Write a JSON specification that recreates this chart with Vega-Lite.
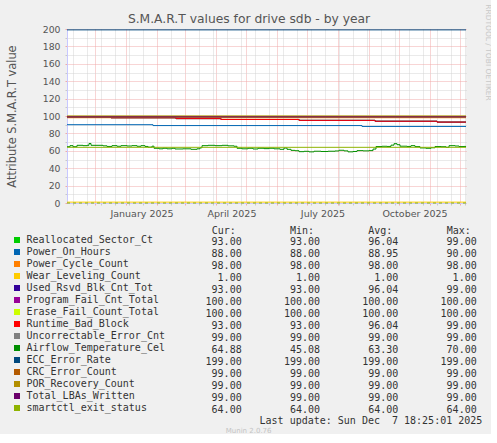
{
  "$schema": "https://vega.github.io/schema/vega-lite/v6.json",
  "background": "#f0f0f0",
  "padding": {"left": 6, "top": 3, "right": 0, "bottom": 0},
  "config": {
    "font": "DejaVu Sans",
    "view": {"stroke": null}
  },
  "datasets": {
    "ts": [
      {"series": "Reallocated_Sector_Ct", "date": "2024-11-03", "value": 99},
      {"series": "Reallocated_Sector_Ct", "date": "2024-12-17", "value": 98},
      {"series": "Reallocated_Sector_Ct", "date": "2025-02-20", "value": 97},
      {"series": "Reallocated_Sector_Ct", "date": "2025-04-06", "value": 96},
      {"series": "Reallocated_Sector_Ct", "date": "2025-06-23", "value": 95},
      {"series": "Reallocated_Sector_Ct", "date": "2025-09-07", "value": 94},
      {"series": "Reallocated_Sector_Ct", "date": "2025-11-08", "value": 93},
      {"series": "Reallocated_Sector_Ct", "date": "2025-12-07", "value": 93},
      {"series": "Power_On_Hours", "date": "2024-11-03", "value": 90},
      {"series": "Power_On_Hours", "date": "2025-01-28", "value": 89},
      {"series": "Power_On_Hours", "date": "2025-08-25", "value": 88},
      {"series": "Power_On_Hours", "date": "2025-12-07", "value": 88},
      {"series": "Power_Cycle_Count", "date": "2024-11-03", "value": 98},
      {"series": "Power_Cycle_Count", "date": "2025-12-07", "value": 98},
      {"series": "Wear_Leveling_Count", "date": "2024-11-03", "value": 1},
      {"series": "Wear_Leveling_Count", "date": "2025-12-07", "value": 1},
      {"series": "Used_Rsvd_Blk_Cnt_Tot", "date": "2024-11-03", "value": 99},
      {"series": "Used_Rsvd_Blk_Cnt_Tot", "date": "2024-12-17", "value": 98},
      {"series": "Used_Rsvd_Blk_Cnt_Tot", "date": "2025-02-20", "value": 97},
      {"series": "Used_Rsvd_Blk_Cnt_Tot", "date": "2025-04-06", "value": 96},
      {"series": "Used_Rsvd_Blk_Cnt_Tot", "date": "2025-06-23", "value": 95},
      {"series": "Used_Rsvd_Blk_Cnt_Tot", "date": "2025-09-07", "value": 94},
      {"series": "Used_Rsvd_Blk_Cnt_Tot", "date": "2025-11-08", "value": 93},
      {"series": "Used_Rsvd_Blk_Cnt_Tot", "date": "2025-12-07", "value": 93},
      {"series": "Program_Fail_Cnt_Total", "date": "2024-11-03", "value": 100},
      {"series": "Program_Fail_Cnt_Total", "date": "2025-12-07", "value": 100},
      {"series": "Erase_Fail_Count_Total", "date": "2024-11-03", "value": 100},
      {"series": "Erase_Fail_Count_Total", "date": "2025-12-07", "value": 100},
      {"series": "Runtime_Bad_Block", "date": "2024-11-03", "value": 99},
      {"series": "Runtime_Bad_Block", "date": "2024-12-17", "value": 98},
      {"series": "Runtime_Bad_Block", "date": "2025-02-20", "value": 97},
      {"series": "Runtime_Bad_Block", "date": "2025-04-06", "value": 96},
      {"series": "Runtime_Bad_Block", "date": "2025-06-23", "value": 95},
      {"series": "Runtime_Bad_Block", "date": "2025-09-07", "value": 94},
      {"series": "Runtime_Bad_Block", "date": "2025-11-08", "value": 93},
      {"series": "Runtime_Bad_Block", "date": "2025-12-07", "value": 93},
      {"series": "Uncorrectable_Error_Cnt", "date": "2024-11-03", "value": 99},
      {"series": "Uncorrectable_Error_Cnt", "date": "2025-12-07", "value": 99},
      {"series": "Airflow_Temperature_Cel", "date": "2024-11-03", "value": 64.7},
      {"series": "Airflow_Temperature_Cel", "date": "2024-11-06", "value": 65.9},
      {"series": "Airflow_Temperature_Cel", "date": "2024-11-09", "value": 64.7},
      {"series": "Airflow_Temperature_Cel", "date": "2024-11-13", "value": 66.3},
      {"series": "Airflow_Temperature_Cel", "date": "2024-11-19", "value": 65.9},
      {"series": "Airflow_Temperature_Cel", "date": "2024-11-23", "value": 66.3},
      {"series": "Airflow_Temperature_Cel", "date": "2024-11-25", "value": 68.4},
      {"series": "Airflow_Temperature_Cel", "date": "2024-11-27", "value": 66.3},
      {"series": "Airflow_Temperature_Cel", "date": "2024-12-04", "value": 66.3},
      {"series": "Airflow_Temperature_Cel", "date": "2024-12-09", "value": 65.7},
      {"series": "Airflow_Temperature_Cel", "date": "2024-12-13", "value": 65.0},
      {"series": "Airflow_Temperature_Cel", "date": "2024-12-18", "value": 65.9},
      {"series": "Airflow_Temperature_Cel", "date": "2024-12-23", "value": 65.2},
      {"series": "Airflow_Temperature_Cel", "date": "2024-12-27", "value": 65.9},
      {"series": "Airflow_Temperature_Cel", "date": "2025-01-02", "value": 65.5},
      {"series": "Airflow_Temperature_Cel", "date": "2025-01-07", "value": 65.9},
      {"series": "Airflow_Temperature_Cel", "date": "2025-01-12", "value": 65.2},
      {"series": "Airflow_Temperature_Cel", "date": "2025-01-16", "value": 65.9},
      {"series": "Airflow_Temperature_Cel", "date": "2025-01-20", "value": 65.0},
      {"series": "Airflow_Temperature_Cel", "date": "2025-01-23", "value": 64.2},
      {"series": "Airflow_Temperature_Cel", "date": "2025-01-27", "value": 65.3},
      {"series": "Airflow_Temperature_Cel", "date": "2025-01-29", "value": 62.9},
      {"series": "Airflow_Temperature_Cel", "date": "2025-02-03", "value": 62.3},
      {"series": "Airflow_Temperature_Cel", "date": "2025-02-07", "value": 62.9},
      {"series": "Airflow_Temperature_Cel", "date": "2025-02-11", "value": 62.3},
      {"series": "Airflow_Temperature_Cel", "date": "2025-02-16", "value": 62.9},
      {"series": "Airflow_Temperature_Cel", "date": "2025-02-19", "value": 62.1},
      {"series": "Airflow_Temperature_Cel", "date": "2025-02-27", "value": 62.3},
      {"series": "Airflow_Temperature_Cel", "date": "2025-03-07", "value": 61.7},
      {"series": "Airflow_Temperature_Cel", "date": "2025-03-13", "value": 62.3},
      {"series": "Airflow_Temperature_Cel", "date": "2025-03-16", "value": 63.5},
      {"series": "Airflow_Temperature_Cel", "date": "2025-03-18", "value": 65.9},
      {"series": "Airflow_Temperature_Cel", "date": "2025-03-24", "value": 66.3},
      {"series": "Airflow_Temperature_Cel", "date": "2025-03-31", "value": 65.9},
      {"series": "Airflow_Temperature_Cel", "date": "2025-04-07", "value": 66.3},
      {"series": "Airflow_Temperature_Cel", "date": "2025-04-13", "value": 65.7},
      {"series": "Airflow_Temperature_Cel", "date": "2025-04-19", "value": 65.2},
      {"series": "Airflow_Temperature_Cel", "date": "2025-04-22", "value": 62.9},
      {"series": "Airflow_Temperature_Cel", "date": "2025-04-27", "value": 62.3},
      {"series": "Airflow_Temperature_Cel", "date": "2025-05-03", "value": 62.9},
      {"series": "Airflow_Temperature_Cel", "date": "2025-05-08", "value": 62.1},
      {"series": "Airflow_Temperature_Cel", "date": "2025-05-13", "value": 62.9},
      {"series": "Airflow_Temperature_Cel", "date": "2025-05-19", "value": 62.5},
      {"series": "Airflow_Temperature_Cel", "date": "2025-05-24", "value": 62.9},
      {"series": "Airflow_Temperature_Cel", "date": "2025-05-29", "value": 62.3},
      {"series": "Airflow_Temperature_Cel", "date": "2025-06-04", "value": 61.7},
      {"series": "Airflow_Temperature_Cel", "date": "2025-06-08", "value": 63.2},
      {"series": "Airflow_Temperature_Cel", "date": "2025-06-11", "value": 61.7},
      {"series": "Airflow_Temperature_Cel", "date": "2025-06-15", "value": 60.5},
      {"series": "Airflow_Temperature_Cel", "date": "2025-06-19", "value": 60.1},
      {"series": "Airflow_Temperature_Cel", "date": "2025-06-23", "value": 59.0},
      {"series": "Airflow_Temperature_Cel", "date": "2025-06-28", "value": 59.4},
      {"series": "Airflow_Temperature_Cel", "date": "2025-07-03", "value": 58.8},
      {"series": "Airflow_Temperature_Cel", "date": "2025-07-08", "value": 59.5},
      {"series": "Airflow_Temperature_Cel", "date": "2025-07-15", "value": 59.2},
      {"series": "Airflow_Temperature_Cel", "date": "2025-07-22", "value": 59.5},
      {"series": "Airflow_Temperature_Cel", "date": "2025-07-29", "value": 59.8},
      {"series": "Airflow_Temperature_Cel", "date": "2025-08-02", "value": 60.6},
      {"series": "Airflow_Temperature_Cel", "date": "2025-08-07", "value": 59.9},
      {"series": "Airflow_Temperature_Cel", "date": "2025-08-11", "value": 58.8},
      {"series": "Airflow_Temperature_Cel", "date": "2025-08-16", "value": 59.2},
      {"series": "Airflow_Temperature_Cel", "date": "2025-08-20", "value": 60.2},
      {"series": "Airflow_Temperature_Cel", "date": "2025-08-26", "value": 59.9},
      {"series": "Airflow_Temperature_Cel", "date": "2025-09-01", "value": 60.2},
      {"series": "Airflow_Temperature_Cel", "date": "2025-09-05", "value": 62.0},
      {"series": "Airflow_Temperature_Cel", "date": "2025-09-08", "value": 64.9},
      {"series": "Airflow_Temperature_Cel", "date": "2025-09-14", "value": 65.2},
      {"series": "Airflow_Temperature_Cel", "date": "2025-09-19", "value": 65.0},
      {"series": "Airflow_Temperature_Cel", "date": "2025-09-23", "value": 66.5},
      {"series": "Airflow_Temperature_Cel", "date": "2025-09-26", "value": 68.2},
      {"series": "Airflow_Temperature_Cel", "date": "2025-09-29", "value": 67.0},
      {"series": "Airflow_Temperature_Cel", "date": "2025-10-02", "value": 65.3},
      {"series": "Airflow_Temperature_Cel", "date": "2025-10-09", "value": 65.0},
      {"series": "Airflow_Temperature_Cel", "date": "2025-10-13", "value": 65.9},
      {"series": "Airflow_Temperature_Cel", "date": "2025-10-17", "value": 64.8},
      {"series": "Airflow_Temperature_Cel", "date": "2025-10-22", "value": 63.3},
      {"series": "Airflow_Temperature_Cel", "date": "2025-10-28", "value": 62.9},
      {"series": "Airflow_Temperature_Cel", "date": "2025-11-02", "value": 63.5},
      {"series": "Airflow_Temperature_Cel", "date": "2025-11-06", "value": 64.9},
      {"series": "Airflow_Temperature_Cel", "date": "2025-11-12", "value": 64.7},
      {"series": "Airflow_Temperature_Cel", "date": "2025-11-17", "value": 64.0},
      {"series": "Airflow_Temperature_Cel", "date": "2025-11-20", "value": 65.9},
      {"series": "Airflow_Temperature_Cel", "date": "2025-11-26", "value": 65.5},
      {"series": "Airflow_Temperature_Cel", "date": "2025-11-30", "value": 64.9},
      {"series": "Airflow_Temperature_Cel", "date": "2025-12-05", "value": 65.0},
      {"series": "Airflow_Temperature_Cel", "date": "2025-12-07", "value": 64.9},
      {"series": "ECC_Error_Rate", "date": "2024-11-03", "value": 199},
      {"series": "ECC_Error_Rate", "date": "2025-12-07", "value": 199},
      {"series": "CRC_Error_Count", "date": "2024-11-03", "value": 99},
      {"series": "CRC_Error_Count", "date": "2025-12-07", "value": 99},
      {"series": "POR_Recovery_Count", "date": "2024-11-03", "value": 99},
      {"series": "POR_Recovery_Count", "date": "2025-12-07", "value": 99},
      {"series": "Total_LBAs_Written", "date": "2024-11-03", "value": 99},
      {"series": "Total_LBAs_Written", "date": "2025-12-07", "value": 99},
      {"series": "smartctl_exit_status", "date": "2024-11-03", "value": 64},
      {"series": "smartctl_exit_status", "date": "2025-12-07", "value": 64}
    ],
    "stats": [
      {"name": "Reallocated_Sector_Ct", "Cur": 93, "Min": 93, "Avg": 96.04, "Max": 99},
      {"name": "Power_On_Hours", "Cur": 88, "Min": 88, "Avg": 88.95, "Max": 90},
      {"name": "Power_Cycle_Count", "Cur": 98, "Min": 98, "Avg": 98, "Max": 98},
      {"name": "Wear_Leveling_Count", "Cur": 1, "Min": 1, "Avg": 1, "Max": 1},
      {"name": "Used_Rsvd_Blk_Cnt_Tot", "Cur": 93, "Min": 93, "Avg": 96.04, "Max": 99},
      {"name": "Program_Fail_Cnt_Total", "Cur": 100, "Min": 100, "Avg": 100, "Max": 100},
      {"name": "Erase_Fail_Count_Total", "Cur": 100, "Min": 100, "Avg": 100, "Max": 100},
      {"name": "Runtime_Bad_Block", "Cur": 93, "Min": 93, "Avg": 96.04, "Max": 99},
      {"name": "Uncorrectable_Error_Cnt", "Cur": 99, "Min": 99, "Avg": 99, "Max": 99},
      {"name": "Airflow_Temperature_Cel", "Cur": 64.88, "Min": 45.08, "Avg": 63.3, "Max": 70},
      {"name": "ECC_Error_Rate", "Cur": 199, "Min": 199, "Avg": 199, "Max": 199},
      {"name": "CRC_Error_Count", "Cur": 99, "Min": 99, "Avg": 99, "Max": 99},
      {"name": "POR_Recovery_Count", "Cur": 99, "Min": 99, "Avg": 99, "Max": 99},
      {"name": "Total_LBAs_Written", "Cur": 99, "Min": 99, "Avg": 99, "Max": 99},
      {"name": "smartctl_exit_status", "Cur": 64, "Min": 64, "Avg": 64, "Max": 64}
    ]
  },
  "title": {"text": "Munin 2.0.76", "orient": "bottom", "anchor": "middle", "fontSize": 7, "fontWeight": "normal", "color": "#c4c4c4", "offset": 1},
  "spacing": 6.6,
  "resolve": {"scale": {"color": "shared"}, "legend": {"color": "shared"}},
  "vconcat": [
    {
      "width": 399,
      "height": 174,
      "view": {"fill": "white", "stroke": null},
      "layer": [
        {
          "data": {"name": "ts"},
          "mark": {"type": "line", "interpolate": "step-after", "strokeWidth": 1},
          "encoding": {
            "x": {
              "field": "date", "type": "temporal",
              "scale": {"domain": [{"year": 2024, "month": 11, "date": 3}, {"year": 2025, "month": 12, "date": 7}]},
              "axis": {
                "title": null,
                "values": [
                  {"year": 2024, "month": 11, "date": 9}, {"year": 2024, "month": 11, "date": 23},
                  {"year": 2024, "month": 12, "date": 1}, {"year": 2024, "month": 12, "date": 7},
                  {"year": 2024, "month": 12, "date": 21}, {"year": 2025, "month": 1, "date": 1},
                  {"year": 2025, "month": 1, "date": 4}, {"year": 2025, "month": 1, "date": 18},
                  {"year": 2025, "month": 2, "date": 1}, {"year": 2025, "month": 2, "date": 15},
                  {"year": 2025, "month": 3, "date": 1}, {"year": 2025, "month": 3, "date": 15},
                  {"year": 2025, "month": 3, "date": 29}, {"year": 2025, "month": 4, "date": 1},
                  {"year": 2025, "month": 4, "date": 12}, {"year": 2025, "month": 4, "date": 26},
                  {"year": 2025, "month": 5, "date": 1}, {"year": 2025, "month": 5, "date": 10},
                  {"year": 2025, "month": 5, "date": 24}, {"year": 2025, "month": 6, "date": 1},
                  {"year": 2025, "month": 6, "date": 7}, {"year": 2025, "month": 6, "date": 21},
                  {"year": 2025, "month": 7, "date": 1}, {"year": 2025, "month": 7, "date": 5},
                  {"year": 2025, "month": 7, "date": 19}, {"year": 2025, "month": 8, "date": 1},
                  {"year": 2025, "month": 8, "date": 2}, {"year": 2025, "month": 8, "date": 16},
                  {"year": 2025, "month": 8, "date": 30}, {"year": 2025, "month": 9, "date": 1},
                  {"year": 2025, "month": 9, "date": 13}, {"year": 2025, "month": 9, "date": 27},
                  {"year": 2025, "month": 10, "date": 1}, {"year": 2025, "month": 10, "date": 11},
                  {"year": 2025, "month": 10, "date": 25}, {"year": 2025, "month": 11, "date": 1},
                  {"year": 2025, "month": 11, "date": 8}, {"year": 2025, "month": 11, "date": 22},
                  {"year": 2025, "month": 12, "date": 1}, {"year": 2025, "month": 12, "date": 6}
                ],
                "labelExpr": "date(datum.value) === 1 && month(datum.value) % 3 === 0 ? timeFormat(datum.value, '%B %Y') : ''",
                "labelOverlap": false, "labelFlush": false, "labelBound": false,
                "labelOffset": 15.5, "labelPadding": 3, "labelFontSize": 9.5, "labelColor": "#555",
                "grid": true,
                "gridColor": {"condition": {"test": "date(datum.value) === 1", "value": "#f0aaaa"}, "value": "#d4d4d4"},
                "gridDash": [1, 1],
                "tickSize": 2,
                "tickColor": {"condition": {"test": "date(datum.value) === 1", "value": "#f0aaaa"}, "value": "#c8c8c8"},
                "domainColor": "#c8c8ff"
              }
            },
            "y": {
              "field": "value", "type": "quantitative",
              "scale": {"domain": [0, 200], "nice": false},
              "axis": {
                "values": [0, 10, 20, 30, 40, 50, 60, 70, 80, 90, 100, 110, 120, 130, 140, 150, 160, 170, 180, 190, 200],
                "labelExpr": "datum.value % 20 === 0 ? datum.label : ''",
                "labelOverlap": false, "labelFlush": false, "labelBound": false,
                "labelPadding": 5, "labelFontSize": 9.3, "labelColor": "#555",
                "grid": true,
                "gridColor": {"condition": {"test": "datum.value % 20 === 0", "value": "#f0aaaa"}, "value": "#d4d4d4"},
                "gridDash": [1, 1],
                "tickSize": 2,
                "tickColor": {"condition": {"test": "datum.value % 20 === 0", "value": "#f0aaaa"}, "value": "#c8c8c8"},
                "domainColor": "#c8c8ff",
                "title": "Attribute S.M.A.R.T value",
                "titleFontSize": 11.4, "titleFontWeight": "normal", "titleColor": "#555", "titlePadding": 25
              }
            },
            "color": {
              "field": "series", "type": "nominal",
              "scale": {
                "domain": ["Reallocated_Sector_Ct", "Power_On_Hours", "Power_Cycle_Count", "Wear_Leveling_Count", "Used_Rsvd_Blk_Cnt_Tot", "Program_Fail_Cnt_Total", "Erase_Fail_Count_Total", "Runtime_Bad_Block", "Uncorrectable_Error_Cnt", "Airflow_Temperature_Cel", "ECC_Error_Rate", "CRC_Error_Count", "POR_Recovery_Count", "Total_LBAs_Written", "smartctl_exit_status"],
                "range": ["#00CC00", "#0066B3", "#FF8000", "#FFCC00", "#330099", "#990099", "#CCFF00", "#FF0000", "#808080", "#008F00", "#00487D", "#B35A00", "#B38F00", "#6B006B", "#8FB300"]
              },
              "legend": {
                "orient": "none", "legendX": -55, "legendY": 206, "title": null, "direction": "vertical",
                "symbolType": "square", "symbolSize": 9, "symbolStrokeWidth": 3,
                "labelFont": "DejaVu Sans Mono", "labelFontSize": 10, "labelColor": "#333", "labelOffset": 4.5,
                "rowPadding": 2, "clipHeight": 10, "labelLimit": 0
              }
            }
          }
        },
        {
          "data": {"values": [{}]},
          "mark": {"type": "rule", "stroke": "#8FB300", "strokeDash": [3, 3]},
          "encoding": {
            "x": {
              "datum": {"year": 2024, "month": 11, "date": 3}, "type": "temporal",
              "axis": {
                "orient": "top", "labels": false, "ticks": false, "domain": false, "grid": false,
                "title": "S.M.A.R.T values for drive sdb - by year",
                "titleFontSize": 12.3, "titleFontWeight": "normal", "titleColor": "#555",
                "titleX": 181.5, "titleY": -7, "titleAlign": "center", "titleBaseline": "alphabetic"
              }
            },
            "x2": {"datum": {"year": 2025, "month": 12, "date": 7}},
            "y": {
              "datum": 0, "type": "quantitative",
              "axis": {
                "orient": "right", "labels": false, "ticks": false, "domain": false, "grid": false,
                "title": "RRDTOOL / TOBI OETIKER", "titleAngle": 90,
                "titleFontSize": 7.5, "titleFontWeight": "normal", "titleColor": "#c8c8c8",
                "titleX": 21, "titleY": 23, "titleAlign": "center", "titleBaseline": "middle"
              }
            }
          }
        }
      ],
      "resolve": {"axis": {"x": "independent", "y": "independent"}}
    },
    {
      "width": 409.7,
      "height": 180,
      "data": {"name": "stats"},
      "transform": [{"fold": ["Cur", "Min", "Avg", "Max"], "as": ["key", "val"]}],
      "mark": {"type": "text", "align": "right", "baseline": "middle", "font": "DejaVu Sans Mono", "fontSize": 10, "fill": "#333"},
      "encoding": {
        "x": {
          "field": "key", "type": "nominal", "bandPosition": 1,
          "scale": {"type": "band", "domain": ["Cur", "Min", "Avg", "Max"], "paddingInner": 0, "paddingOuter": 0.615, "align": 1},
          "axis": {
            "orient": "top", "title": null, "domain": false, "ticks": false, "tickSize": 0, "grid": false,
            "labelAngle": 0, "labelExpr": "datum.label + ':'", "labelAlign": "right",
            "labelOffset": 33.2, "labelPadding": 0.4, "labelFont": "DejaVu Sans Mono", "labelFontSize": 10, "labelColor": "#333"
          }
        },
        "y": {"field": "name", "type": "nominal", "sort": null, "scale": {"type": "band", "paddingInner": 0, "paddingOuter": 0}, "axis": null},
        "text": {"field": "val", "type": "quantitative", "format": ".2f"}
      },
      "title": {"text": "Last update: Sun Dec \u00a07 18:25:01 2025", "orient": "bottom", "anchor": "end", "font": "DejaVu Sans Mono", "fontSize": 10, "fontWeight": "normal", "color": "#333", "dx": 5.6, "offset": 0}
    }
  ]
}
